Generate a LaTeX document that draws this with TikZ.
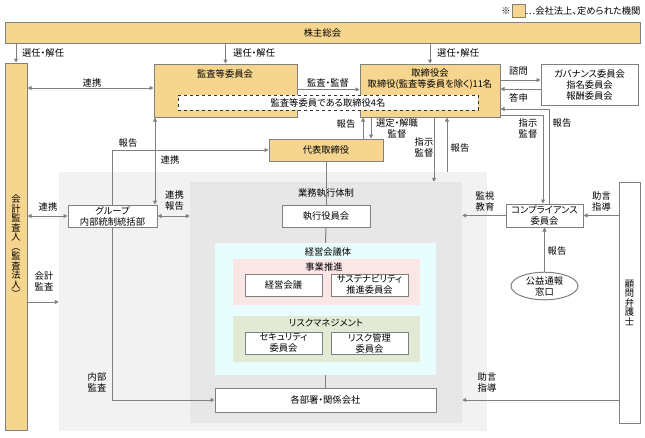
\documentclass[tikz,border=0pt]{standalone}
\usepackage{fontspec}
\setmainfont[RawFeature=+palt]{Noto Sans CJK JP}
\usepackage{xcolor}
\usepackage{tikz}
\usetikzlibrary{shapes.geometric}
\usetikzlibrary{arrows.meta}
\definecolor{kikan}{RGB}{246,213,142}
\definecolor{sen}{RGB}{128,128,128}
\definecolor{usuhai}{RGB}{242,242,242}
\definecolor{hai}{RGB}{231,231,231}
\definecolor{mizu}{RGB}{232,253,253}
\definecolor{momo}{RGB}{251,230,230}
\definecolor{moegi}{RGB}{226,234,214}

\begin{document}
\begin{tikzpicture}[x=1pt,y=-1pt,
    font=\fontsize{9.3}{11}\selectfont,
    box/.style={draw=sen,line width=1pt,fill=white,inner sep=0pt,align=center},
    organ/.style={box,fill=kikan},
    area/.style={inner sep=0pt},
    lbl/.style={inner sep=0pt,align=center},
    tate/.style={font=\fontsize{9.3}{9.5}\selectfont},
    wire/.style={draw=sen,line width=1pt},
    link/.style={wire,->},
    >={Triangle[length=4pt,width=4pt]}
    ]
  \useasboundingbox (0,0) rectangle (645,437);

  % areas
  \node[area,fill=usuhai,minimum width=428,minimum height=259] (soto) at (273,301.5) {};
  \node[area,fill=hai,minimum width=272,minimum height=241] (gyomu) at (326,302.5) {};
  \node[area,fill=mizu,minimum width=221,minimum height=132] (kaigitai) at (325.5,309) {};
  \node[area,fill=momo,minimum width=187,minimum height=46] (jigyo) at (326.5,282) {};
  \node[area,fill=moegi,minimum width=187,minimum height=46] (risuku) at (326.5,339) {};

  % legend
  \node[lbl] (kome) at (506,11) {※};
  \node[draw=sen,fill=kikan,minimum width=13,minimum height=13,inner sep=0pt] (hanrei) at (518.5,11) {};
  \node[lbl,anchor=west] (hanreiT) at (hanrei.east) {…会社法上、定められた機関};

  % organs
  \node[organ,minimum width=635,minimum height=21] (kabunushi) at (322.5,32.5) {株主総会};
  \node[organ,tate,minimum width=22,minimum height=367] (kaikei) at (16,246.5)
    {会\\計\\監\\査\\人\\︵\\監\\査\\法\\人\\︶};
  \node[organ,minimum width=143,minimum height=53] (kansa) at (225.5,90.5) {};
  \node[lbl] (kansaT) at (225,74) {監査等委員会};
  \node[organ,minimum width=140,minimum height=53] (torishimari) at (430,90.5) {};
  \node[lbl] (torishimariT) at (430,79.5) {取締役会\\取締役(監査等委員を除く)11名};
  \node[box,dashed,draw=black!80,minimum width=300,minimum height=15] (yonmei) at (328,102.5)
    {監査等委員である取締役4名};
  \node[organ,minimum width=114,minimum height=22] (daihyo) at (326,150) {代表取締役};

  % boxes
  \node[box,minimum width=97,minimum height=41] (iinkai) at (589.5,84.5)
    {ガバナンス委員会\\指名委員会\\報酬委員会};
  \node[box,minimum width=88,minimum height=22] (shikko) at (326,216) {執行役員会};
  \node[box,minimum width=77,minimum height=22] (kaigi) at (283.5,285) {経営会議};
  \node[box,minimum width=77,minimum height=22] (sustain) at (369.5,285) {サステナビリティ\\推進委員会};
  \node[box,minimum width=77,minimum height=22] (security) at (283.5,343) {セキュリティ\\委員会};
  \node[box,minimum width=77,minimum height=22] (kanri) at (369.5,343) {リスク管理\\委員会};
  \node[box,minimum width=221,minimum height=24] (kakubusho) at (325.5,400) {各部署・関係会社};
  \node[box,minimum width=89,minimum height=22] (group) at (112.5,216) {グループ\\内部統制統括部};
  \node[box,minimum width=77,minimum height=23] (comp) at (544.5,215.5) {コンプライアンス\\委員会};
  \node[box,tate,minimum width=21,minimum height=241] (komon) at (629.5,302.5) {顧\\問\\弁\\護\\士};
  \node[box,ellipse,minimum width=67,minimum height=26] (madoguchi) at (544.5,286) {公益通報\\窓口};

  % area titles
  \node[lbl] (gyomuT) at (326,193) {業務執行体制};
  \node[lbl] (kaigitaiT) at (328,252) {経営会議体};
  \node[lbl] (jigyoT) at (324,267) {事業推進};
  \node[lbl] (risukuT) at (326,323) {リスクマネジメント};

  % connectors
  \draw[link] (kabunushi.south -| kaikei.north) -- (kaikei.north);
  \draw[link] (kabunushi.south -| kansa.north) -- (kansa.north);
  \draw[link] (kabunushi.south -| torishimari.north) -- (torishimari.north);
  \draw[link,<->] (kaikei.east |- 0,88) -- (kansa.west |- 0,88);
  \draw[link] (kansa.east |- 0,89.5) -- (torishimari.west |- 0,89.5);
  \draw[link] (torishimari.east |- 0,80) -- (iinkai.west |- 0,80);
  \draw[link] (iinkai.west |- 0,89) -- (torishimari.east |- 0,89);
  \draw[link] (comp.north -| 549,0) |- (torishimari.east |- 0,109);
  \draw[link] (torishimari.east |- 0,115) -| (comp.north -| 543,0);
  \draw[link] (daihyo.north -| 363,0) -- (torishimari.south -| 363,0);
  \draw[link] (torishimari.south -| 371,0) -- (daihyo.north -| 371,0);
  \draw[wire] (daihyo.south) -- (shikko.north);
  \draw[link] (torishimari.south -| 434,0) -- (gyomu.north -| 434,0);
  \draw[link] (soto.north -| 447,0) -- (torishimari.south -| 447,0);
  \draw[wire] (shikko.south) -- (kaigitai.north);
  \draw[wire] (kaigitai.south) -- (kakubusho.north);
  \draw[link,<->] (kaikei.east |- group.west) -- (group.west);
  \draw[link,<->] (group.east) -- (gyomu.west |- group.east);
  \draw[link,<->] (group.north -| 155,0) -- (kansa.south -| 155,0);
  \draw[link] (group.north) |- (daihyo.west);
  \draw[link] (group.south) |- (kakubusho.west);
  \draw[link] (kaikei.east |- 0,302) -- (soto.west |- 0,302);
  \draw[link] (comp.west) -- (gyomu.east |- comp.west);
  \draw[link] (komon.west |- comp.east) -- (comp.east);
  \draw[link] (madoguchi.north) -- (comp.south);
  \draw[link] (komon.west |- kakubusho.east) -- (gyomu.east |- kakubusho.east);

  % labels
  \node[lbl,anchor=west] (sennin1) at (22,53) {選任・解任};
  \node[lbl,anchor=west] (sennin2) at (233,53) {選任・解任};
  \node[lbl,anchor=west] (sennin3) at (437,53) {選任・解任};
  \node[lbl] (renkei1) at (92,83) {連携};
  \node[lbl] (kansaKantoku) at (328,83) {監査・監督};
  \node[lbl] (shimon) at (518.5,71) {諮問};
  \node[lbl] (toshin) at (518.5,98) {答申};
  \node[lbl] (hokoku1) at (562,123) {報告};
  \node[lbl] (shiji1) at (528,128) {指示\\監督};
  \node[lbl] (hokoku2) at (346,124) {報告};
  \node[lbl] (sentei) at (397,128.5) {選定・解職\\監督};
  \node[lbl] (shiji2) at (424,147.5) {指示\\監督};
  \node[lbl] (hokoku3) at (460,148) {報告};
  \node[lbl] (hokoku4) at (128,143) {報告};
  \node[lbl] (renkei2) at (170,160) {連携};
  \node[lbl] (renkei3) at (174.5,200.5) {連携\\報告};
  \node[lbl] (renkei4) at (48,207) {連携};
  \node[lbl] (kaikeiKansa) at (44,281.5) {会計\\監査};
  \node[lbl] (naibu) at (97,382.5) {内部\\監査};
  \node[lbl] (kanshi) at (485,201.5) {監視\\教育};
  \node[lbl] (jogen1) at (601.5,201.5) {助言\\指導};
  \node[lbl] (hokoku5) at (557,251) {報告};
  \node[lbl] (jogen2) at (487,382) {助言\\指導};
\end{tikzpicture}
\end{document}
